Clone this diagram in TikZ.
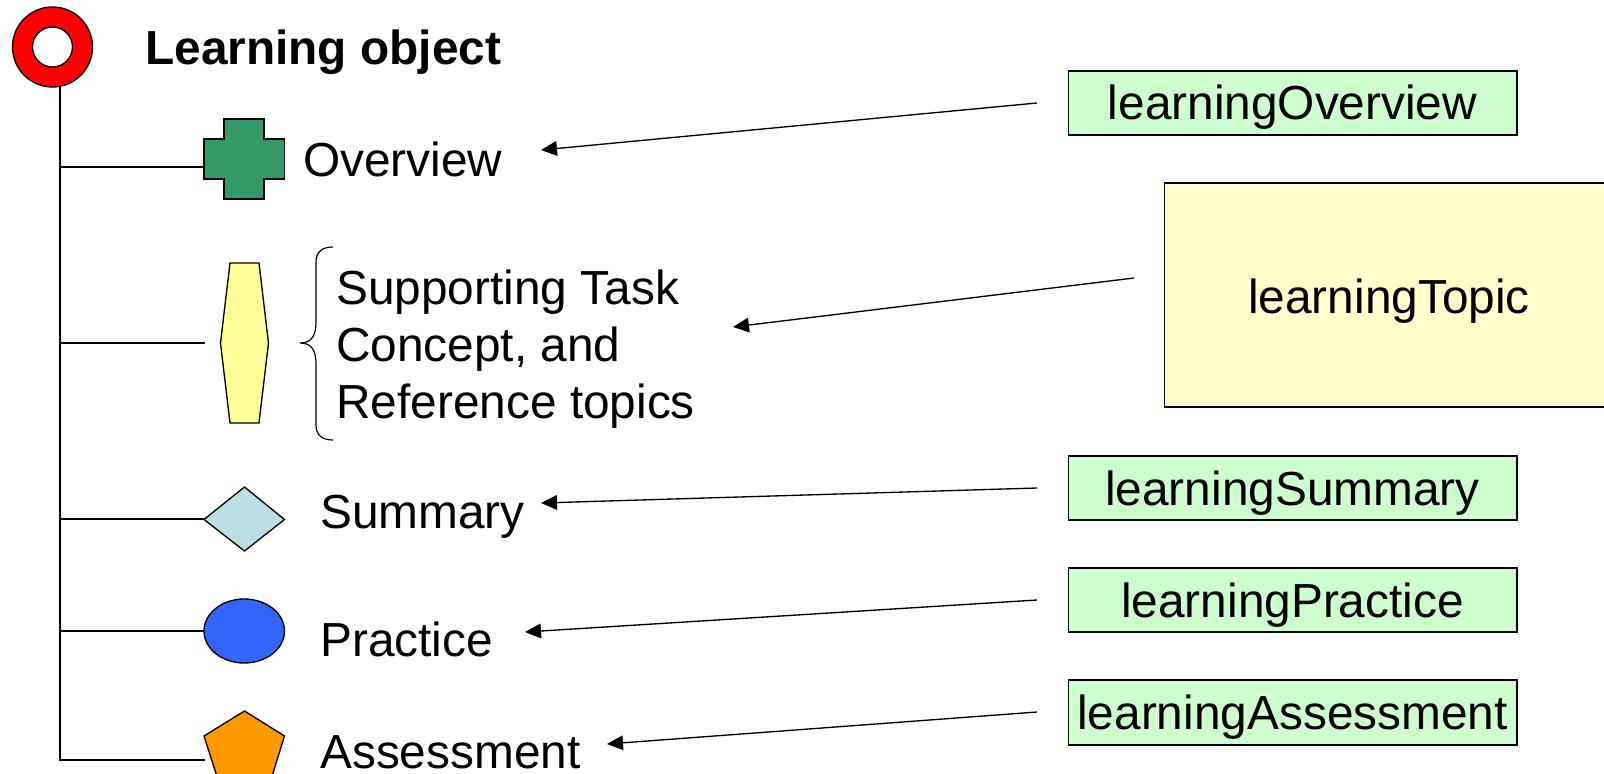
\documentclass[tikz,border=0pt]{standalone}
\usepackage{fontspec}
\setmainfont{Liberation Sans}
\usetikzlibrary{arrows.meta}
\definecolor{kgreen}{HTML}{CCFFCC}
\definecolor{kyellow}{HTML}{FFFFCC}
\definecolor{hexy}{HTML}{FFFF99}
\definecolor{crossg}{HTML}{339966}
\definecolor{diam}{HTML}{BBE0E3}
\definecolor{ell}{HTML}{3366FF}
\definecolor{pent}{HTML}{FF9900}
\newcommand{\lblfont}{\fontsize{35.85}{43}\selectfont}
\tikzset{
  px/.style={x=0.75pt,y=-0.75pt},
  ln/.style={draw=black,line width=1pt},
  lbl/.style={inner sep=0pt,anchor=base west,font=\lblfont,align=left},
  kbox/.style={draw=black,line width=0.9pt,fill=kgreen},
  ktext/.style={inner sep=0pt,anchor=base,font=\lblfont},
  arr/.style={draw=black,line width=1pt,-{Triangle[length=12pt,width=11pt]}},
}
\begin{document}
\begin{tikzpicture}[px]
\useasboundingbox (0,0) rectangle (1604,774);
\clip (0,0) rectangle (1604,774);
% tree
\path[fill=red,even odd rule,ln] (52.5,47) circle (40) (52.5,47) circle (20);
\coordinate (top) at (60,87);
\coordinate (c1) at (60,167);
\coordinate (c2) at (60,343);
\coordinate (c3) at (60,519);
\coordinate (c4) at (60,631);
\coordinate (c5) at (60,760);
\coordinate (s1) at (204,167);
\coordinate (s2) at (205,343);
\coordinate (s3) at (204,519);
\coordinate (s4) at (204,631);
\coordinate (s5) at (205,760);
\draw[ln] (top) -- (c5) -- (s5);
\draw[ln] (c1) -- (s1);
\draw[ln] (c2) -- (s2);
\draw[ln] (c3) -- (s3);
\draw[ln] (c4) -- (s4);
% shapes
\path[ln,fill=crossg] (224,119) -- (264,119) -- (264,139) -- (284.5,139) -- (284.5,179) -- (264,179) -- (264,199) -- (224,199) -- (224,179) -- (204,179) -- (204,139) -- (224,139) -- cycle;
\path[ln,fill=hexy] (230,263) -- (259,263) -- (268.5,343) -- (259,423) -- (230,423) -- (220.5,343) -- cycle;
\path[ln,fill=diam] (244.5,487) -- (284.5,519.5) -- (244.5,551) -- (204,519.5) -- cycle;
\path[ln,fill=ell] (244.25,631) ellipse [x radius=40.25,y radius=32];
\path[ln,fill=pent] (244.5,711) -- (284.5,736) -- (269,786) -- (220,786) -- (204,736) -- cycle;
% brace
\draw[ln,line width=0.9pt] (333,247) .. controls (322,247) and (316,252) .. (316,262) -- (316,322) .. controls (316,335) and (312,343) .. (300,343) .. controls (312,343) and (316,351) .. (316,364) -- (316,425) .. controls (316,435) and (322,440) .. (333,440);
% labels
\node[lbl,font=\fontsize{35.85}{43}\bfseries\selectfont] (t0) at (145,65) {Learning object};
\node[lbl] (t1) at (303,176) {Overview};
\node[lbl,anchor=west] (t2) at (336,349) {Supporting Task\\Concept, and\\Reference topics};
\node[lbl] (t3) at (320,528) {Summary};
\node[lbl] (t4) at (320,656) {Practice};
\node[lbl] (t5) at (320,768.5) {Assessment};
% boxes
\path[kbox] (1068.5,71) rectangle (1517,135);
\node[ktext] (b1) at (1292.5,119) {learningOverview};
\path[draw=black,line width=0.9pt,fill=kyellow] (1164.5,183) rectangle (1610,407);
\node[ktext] (b2) at (1389,313.5) {learningTopic};
\path[kbox] (1068.5,456) rectangle (1517,520);
\node[ktext] (b3) at (1292.5,505.5) {learningSummary};
\path[kbox] (1068.5,568) rectangle (1517,632);
\node[ktext] (b4) at (1292.5,617) {learningPractice};
\path[kbox] (1068.5,680) rectangle (1517,745);
\node[ktext] (b5) at (1292.5,729.5) {learningAssessment};
% arrows
\coordinate (a1) at (1037,103); \coordinate (e1) at (541,150);
\coordinate (a2) at (1134,278); \coordinate (e2) at (733,327);
\coordinate (a3) at (1037,488); \coordinate (e3) at (541,503);
\coordinate (a4) at (1037,600); \coordinate (e4) at (525,632);
\coordinate (a5) at (1037,712); \coordinate (e5) at (607,744);
\draw[arr] (a1) -- (e1);
\draw[arr] (a2) -- (e2);
\draw[arr] (a3) -- (e3);
\draw[arr] (a4) -- (e4);
\draw[arr] (a5) -- (e5);
\end{tikzpicture}
\end{document}
